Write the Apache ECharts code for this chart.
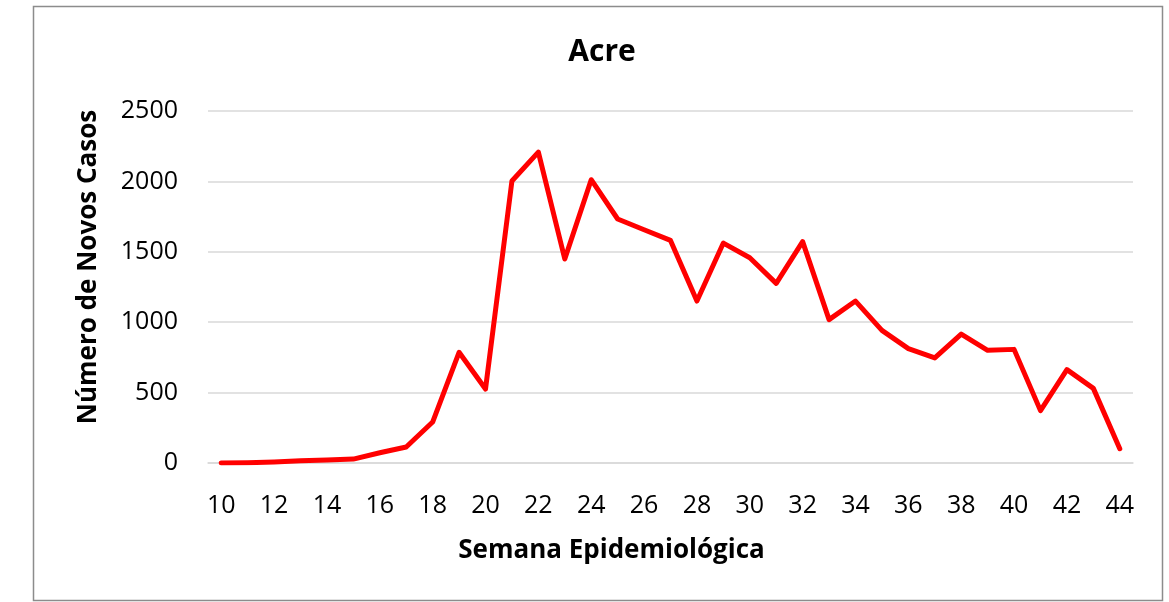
<!DOCTYPE html>
<html>
<head>
    <meta charset="UTF-8" />
    <title>Acre</title>
    <script type="text/javascript" src="https://cdn.jsdelivr.net/npm/echarts@6/dist/echarts.min.js"></script>
    <style>
        body { margin: 0; background: #fff; }
    </style>
</head>
<body>

<div id="main" style="width: 1169px;height: 602px;"></div>

<script>
    // semanas epidemiologicas
    var semanas = ['10', '11', '12', '13', '14', '15', '16', '17', '18', '19', '20',
        '21', '22', '23', '24', '25', '26', '27', '28', '29', '30', '31', '32',
        '33', '34', '35', '36', '37', '38', '39', '40', '41', '42', '43', '44'];

    // novos casos por semana
    var novosCasos = [0, 2, 7, 16, 21, 28, 73, 114, 291, 786, 525,
        2003, 2208, 1449, 2012, 1733, 1657, 1581, 1150, 1562, 1458, 1276, 1572,
        1018, 1150, 942, 812, 746, 916, 800, 807, 372, 663, 530, 102];

    var yTicks = [0, 500, 1000, 1500, 2000, 2500];

    var fonte = "'Open Sans', 'Noto Sans', sans-serif";

    var mychart = echarts.init(document.getElementById('main'));

    var option = {
        backgroundColor: '#ffffff',
        animation: false,
        title: {
            text: 'Acre',
            left: 597,
            top: 32,
            textAlign: 'center',
            textStyle: {
                fontFamily: fonte,
                fontSize: 30,
                fontWeight: 'bold',
                color: '#000'
            }
        },
        graphic: [{
            type: 'rect',
            shape: { x: 33.5, y: 6.5, width: 1129, height: 594 },
            style: { fill: 'none', stroke: '#8c8c8c', lineWidth: 1.5 },
            silent: true
        }],
        grid: {
            left: 208,
            right: 36,
            top: 111,
            bottom: 139
        },
        xAxis: {
            type: 'category',
            data: semanas,
            boundaryGap: true,
            name: 'Semana Epidemiológica',
            nameLocation: 'middle',
            nameGap: 75,
            nameTextStyle: {
                fontFamily: fonte,
                fontSize: 26,
                fontWeight: 'bold',
                color: '#000',
                padding: [0, 118, 0, 0]
            },
            axisLine: { show: true, lineStyle: { color: '#d9d9d9', width: 1.5 } },
            axisTick: { show: false },
            axisLabel: {
                interval: 1,
                margin: 30,
                fontFamily: fonte,
                fontSize: 25,
                color: '#000'
            },
            splitLine: { show: false }
        },
        yAxis: {
            type: 'value',
            min: yTicks[0],
            max: yTicks[yTicks.length - 1],
            interval: 500,
            name: 'Número de Novos Casos',
            nameLocation: 'middle',
            nameGap: 106,
            nameTextStyle: {
                fontFamily: fonte,
                fontSize: 26,
                fontWeight: 'bold',
                color: '#000',
                padding: [0, 0, 0, 40]
            },
            axisLine: { show: false },
            axisTick: { show: false },
            axisLabel: {
                margin: 30,
                fontFamily: fonte,
                fontSize: 25,
                color: '#000',
                formatter: function (v) { return String(v); }
            },
            splitLine: { show: true, lineStyle: { color: '#d9d9d9', width: 1.5 } }
        },
        series: [{
            name: 'Acre',
            type: 'line',
            data: novosCasos,
            showSymbol: false,
            symbol: 'none',
            lineStyle: { color: '#ff0000', width: 5, join: 'round', cap: 'round' }
        }]
    };

    mychart.setOption(option);
</script>

</body>
</html>
